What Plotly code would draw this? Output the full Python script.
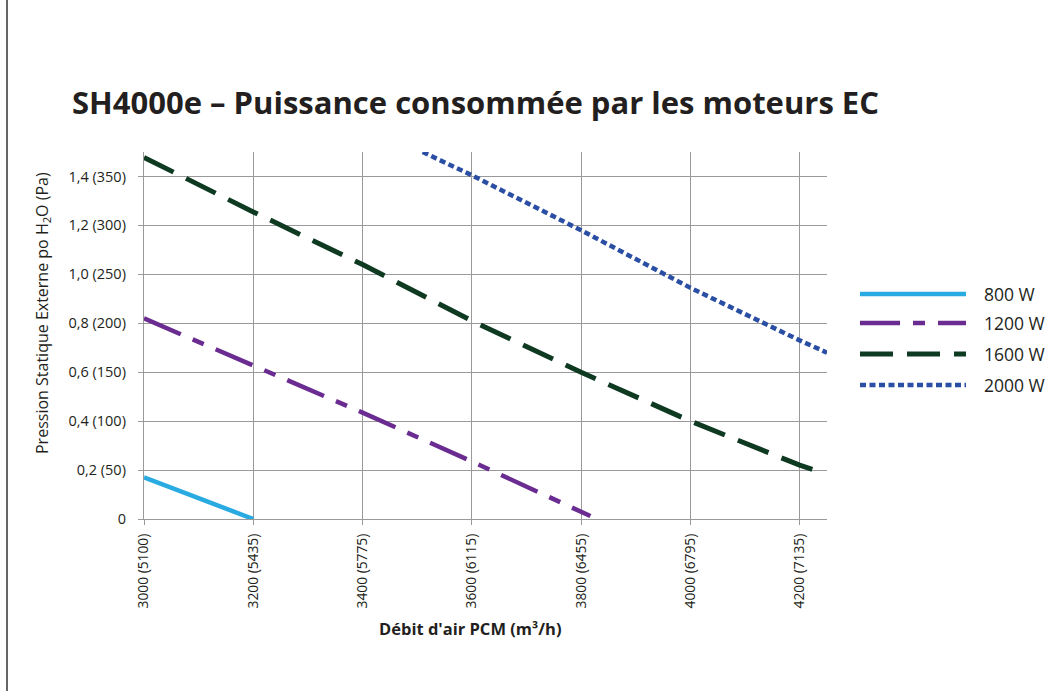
import plotly.graph_objects as go

# ---- data ----
series_names = ["800 W", "1200 W", "1600 W", "2000 W"]

x_800 = [3000, 3200]
y_800 = [0.17, 0.0]

x_1200 = [3000, 3200, 3400, 3600, 3800, 3817]
y_1200 = [0.82, 0.63, 0.435, 0.235, 0.03, 0.012]

x_1600 = [3000, 3200, 3400, 3600, 3800, 4000, 4200, 4240]
y_1600 = [1.478, 1.255, 1.04, 0.81, 0.60, 0.40, 0.22, 0.19]

x_2000 = [3510, 3600, 3800, 4000, 4200, 4250]
y_2000 = [1.50, 1.405, 1.18, 0.945, 0.73, 0.68]

x_tickvals = [3000, 3200, 3400, 3600, 3800, 4000, 4200]
x_ticktext = ["3000 (5100)", "3200 (5435)", "3400 (5775)", "3600 (6115)",
              "3800 (6455)", "4000 (6795)", "4200 (7135)"]
y_tickvals = [0, 0.2, 0.4, 0.6, 0.8, 1.0, 1.2, 1.4]
y_ticktext = ["0", "0,2 (50)", "0,4 (100)", "0,6 (150)", "0,8 (200)",
              "1,0 (250)", "1,2 (300)", "1,4 (350)"]

title_text = "SH4000e – Puissance consommée par les moteurs EC"
x_title = "Débit d'air PCM (m³/h)"
y_title = "Pression Statique Externe po H<sub>2</sub>O (Pa)"

# ---- styles ----
colors = ["#29abe2", "#6a2c91", "#0f3a22", "#2a4ea3"]
dashes = ["solid", "40px,13px,12px,13px", "33px,14px", "6px,3.5px"]
widths = [4.5, 4.5, 5, 4.5]
FONT = "Open Sans"
TXT = "#231f20"
GRID = "#9a9a9a"

fig = go.Figure()
for name, xs, ys, c, d, w in zip(series_names,
                                 [x_800, x_1200, x_1600, x_2000],
                                 [y_800, y_1200, y_1600, y_2000],
                                 colors, dashes, widths):
    fig.add_trace(go.Scatter(x=xs, y=ys, mode="lines", name=name,
                             line=dict(color=c, dash=d, width=w),
                             showlegend=False, hoverinfo="skip"))

# plot area geometry (pixels)
L, R, T, B = 144, 827, 152, 519
W, H = 1050, 691

def px_x(p):
    return (p - L) / (R - L)

def px_y(p):
    return (B - p) / (B - T)

fig.update_layout(
    width=W, height=H,
    margin=dict(l=L, r=W - R, t=T, b=H - B),
    paper_bgcolor="white", plot_bgcolor="white",
    font=dict(family=FONT, color=TXT, size=14),
    title=dict(text=title_text, x=72 / W, xanchor="left",
               y=1 - 103 / H, yanchor="middle",
               font=dict(family=FONT, size=31, color=TXT, weight="bold")),
)

fig.update_xaxes(range=[3000, 4250], tickvals=x_tickvals, ticktext=x_ticktext,
                 tickangle=-90, showgrid=True, gridcolor=GRID, gridwidth=1.3,
                 showline=True, linecolor=GRID, linewidth=1.3,
                 ticks="outside", ticklen=5, tickcolor=GRID, tickwidth=1.3,
                 ticklabelstandoff=3,
                 zeroline=False, tickfont=dict(size=13.8, color=TXT))
fig.update_yaxes(range=[0, 1.5], tickvals=y_tickvals, ticktext=y_ticktext,
                 showgrid=True, gridcolor=GRID, gridwidth=1.3,
                 showline=True, linecolor=GRID, linewidth=1.3,
                 ticks="outside", ticklen=5, tickcolor=GRID, tickwidth=1.3,
                 ticklabelstandoff=9,
                 zeroline=False, tickfont=dict(size=14.5, color=TXT))

# axis titles
fig.add_annotation(text=y_title, xref="paper", yref="paper",
                   x=px_x(42), y=px_y(313), textangle=-90, showarrow=False,
                   xanchor="center", yanchor="middle",
                   font=dict(size=16, color=TXT))
fig.add_annotation(text="<b>" + x_title + "</b>", xref="paper", yref="paper",
                   x=px_x(470), y=px_y(628), showarrow=False,
                   xanchor="center", yanchor="middle",
                   font=dict(size=16.5, color=TXT))

# custom legend
leg_rows = [294, 323, 354, 385]
for name, c, d, w, yy in zip(series_names, colors, dashes, widths, leg_rows):
    fig.add_shape(type="line", xref="paper", yref="paper",
                  x0=px_x(860), x1=px_x(966), y0=px_y(yy), y1=px_y(yy),
                  line=dict(color=c, dash=d, width=w))
    fig.add_annotation(text=name, xref="paper", yref="paper",
                       x=px_x(982), y=px_y(yy), showarrow=False,
                       xanchor="left", yanchor="middle",
                       font=dict(size=17.5, color=TXT))

# frame line on the left
fig.add_shape(type="line", xref="paper", yref="paper",
              x0=px_x(7), x1=px_x(7), y0=px_y(0), y1=px_y(691),
              line=dict(color="#333333", width=1.5))

fig.write_html("out.html",
               config={"displayModeBar": False},
               post_script="document.body.style.margin='0';"
                           "document.body.style.overflow='hidden';")
